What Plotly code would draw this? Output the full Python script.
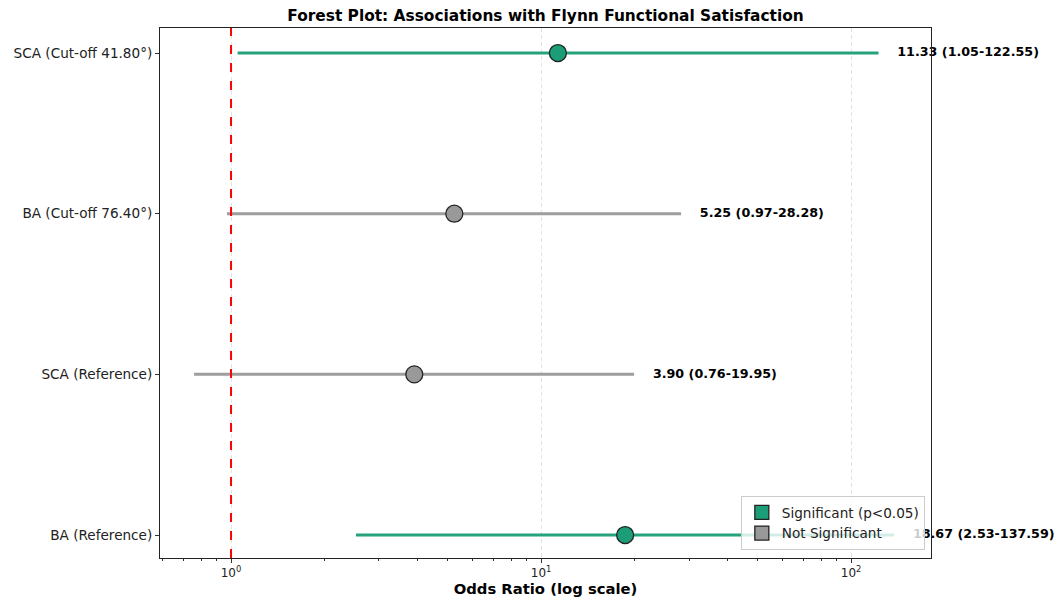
import plotly.graph_objects as go
import numpy as np

labels = ["BA (Reference)", "SCA (Reference)", "BA (Cut-off 76.40°)", "SCA (Cut-off 41.80°)"]
odds_ratio = [18.67, 3.90, 5.25, 11.33]
ci_lower = [2.53, 0.76, 0.97, 1.05]
ci_upper = [137.59, 19.95, 28.28, 122.55]
significant = [True, False, False, True]

GREEN = "#1b9e77"
GREY = "#999999"
FONT = "DejaVu Sans"

fig = go.Figure()
ypos = list(range(len(labels)))

# CI lines
for i in ypos:
    col = GREEN if significant[i] else GREY
    fig.add_trace(go.Scatter(x=[ci_lower[i], ci_upper[i]], y=[i, i], mode="lines",
                             line=dict(color=col, width=3), opacity=0.95,
                             showlegend=False, hoverinfo="skip"))

# reference line at OR = 1
fig.add_shape(type="line", xref="x", yref="paper", x0=1, x1=1, y0=0, y1=1,
              line=dict(color="red", width=2, dash="dash"), layer="above")

# point estimates
for i in ypos:
    col = GREEN if significant[i] else GREY
    fig.add_trace(go.Scatter(x=[odds_ratio[i]], y=[i], mode="markers",
                             marker=dict(color=col, size=17, line=dict(color="#222222", width=1.3)),
                             showlegend=False))

# text labels
fig.add_trace(go.Scatter(
    x=[u * 1.15 for u in ci_upper], y=ypos, mode="text",
    text=[f"<b>{o:.2f} ({l:.2f}-{u:.2f})</b>" for o, l, u in zip(odds_ratio, ci_lower, ci_upper)],
    textposition="middle right", textfont=dict(family=FONT, size=12.7, color="black"),
    cliponaxis=False, showlegend=False, hoverinfo="skip"))

# legend entries
fig.add_trace(go.Scatter(x=[None], y=[None], mode="markers", name="Significant (p<0.05)",
                         marker=dict(symbol="square", color=GREEN, size=14, line=dict(color="#222222", width=1.3))))
fig.add_trace(go.Scatter(x=[None], y=[None], mode="markers", name="Not Significant",
                         marker=dict(symbol="square", color=GREY, size=14, line=dict(color="#222222", width=1.3))))

minor_vals = [v * 10 ** k for k in range(-1, 3) for v in range(2, 10)]
fig.update_xaxes(type="log", range=[np.log10(0.59), np.log10(181)], automargin=False,
                 tickvals=[1, 10, 100], ticktext=["10<sup>0</sup>", "10<sup>1</sup>", "10<sup>2</sup>"],
                 ticks="outside", ticklen=4, tickcolor="#333333",
                 minor=dict(tickvals=minor_vals, ticks="outside", ticklen=2, tickcolor="#333333", showgrid=False),
                 showgrid=True, gridcolor="#e3e3e3", griddash="4px,3px", gridwidth=1,
                 showline=True, linecolor="#222222", linewidth=1, mirror=True, zeroline=False,
                 tickfont=dict(family=FONT, size=12, color="#222222"),
                 title=dict(text="<b>Odds Ratio (log scale)</b>", font=dict(family=FONT, size=14.8, color="black"), standoff=4))
fig.update_yaxes(range=[-0.143, 3.156], tickvals=ypos, ticktext=labels, automargin=False,
                 ticks="outside", ticklen=4, tickcolor="#333333", showgrid=False, zeroline=False,
                 showline=True, linecolor="#222222", linewidth=1, mirror=True,
                 tickfont=dict(family=FONT, size=13.6, color="#222222"))

fig.update_layout(
    width=1055, height=603,
    margin=dict(l=160, r=124, t=28, b=45),
    plot_bgcolor="white", paper_bgcolor="white",
    title=dict(text="<b>Forest Plot: Associations with Flynn Functional Satisfaction</b>",
               font=dict(family=FONT, size=15.4, color="black"),
               x=(160 + 931) / 2 / 1055, xanchor="center", y=1 - 16 / 603, yanchor="middle"),
    legend=dict(x=0.992, y=0.015, xanchor="right", yanchor="bottom",
                bgcolor="rgba(255,255,255,0.8)", bordercolor="#cccccc", borderwidth=1,
                font=dict(family=FONT, size=13.6, color="#222222"), itemsizing="trace",
                tracegroupgap=0),
)

fig.write_html("out.html", config={"displayModeBar": False},
               post_script="document.body.style.margin='0';document.body.style.overflow='hidden';")
